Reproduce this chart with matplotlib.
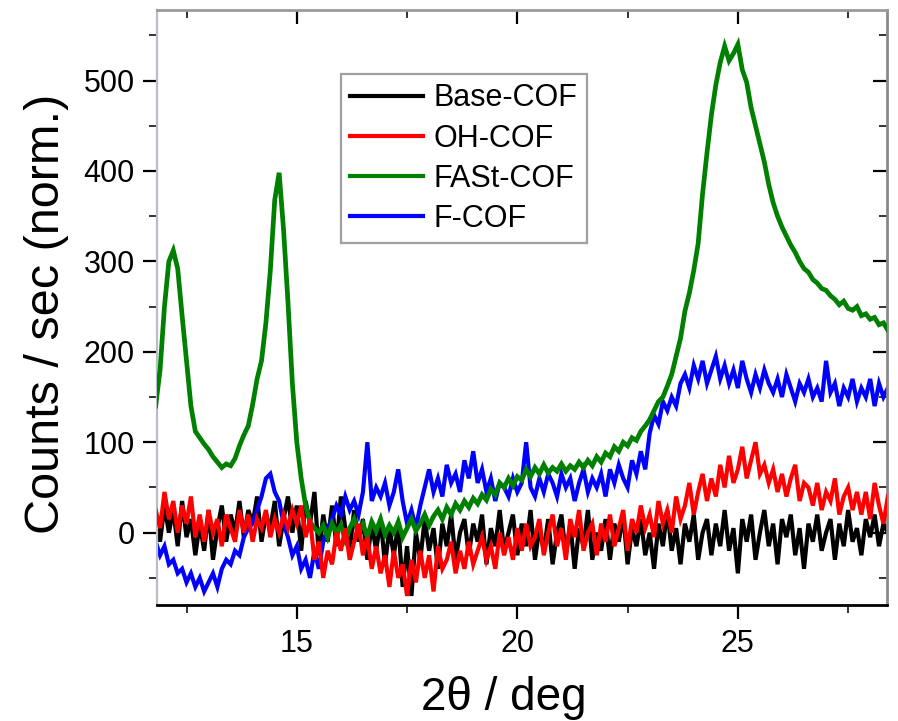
import numpy as np
import matplotlib
matplotlib.use("Agg")
import matplotlib.pyplot as plt
from matplotlib.ticker import MultipleLocator

plt.rcParams['font.family'] = ['Liberation Sans', 'DejaVu Sans']

# 2-theta sampling grid (deg): 11.8 ... 28.4, every 0.1
x_start = 11.8
x_step = 0.1

series_names = ["Base-COF", "OH-COF", "FASt-COF", "F-COF"]
series_colors = ["#000000", "#ff0000", "#008000", "#0000ff"]

base_cof = [
    20, -10, 30, 0, 25, -15, 35, -5, 15, -25,
    10, -20, 25, -30, 5, 30, -10, 20, 0, 35,
    -5, 25, 10, 40, -10, 20, 5, 35, -15, 15,
    40, 0, 30, -20, 35, 10, 45, -25, 20, -10,
    30, -15, 40, 5, -20, 25, -10, 15, -30, 10,
    -20, 15, -35, 5, -25, 10, -60, -15, -70, 0,
    -30, 15, -20, 5, -40, 10, -15, 20, -30, 0,
    15, -25, 10, -10, 20, -35, 5, -15, 25, -20,
    0, 20, -25, 10, -15, 25, -30, 5, -20, 15,
    -35, 0, 20, -25, 10, -40, 5, -15, 25, -30,
    0, -20, 15, -30, 10, -10, 20, -35, 5, -15,
    15, -25, 0, -40, 10, -15, 25, -20, 5, -35,
    10, -10, 20, -30, 0, 15, -25, 10, -15, 25,
    -20, 5, -45, 15, -10, 20, -30, 0, 25, -15,
    10, -35, 15, -5, 20, -25, 5, -40, 10, -10,
    20, -20, 0, 15, -30, 10, -15, 25, -10, 5,
    -25, 15, -5, 20, -15, 10, 0,
]

oh_cof = [
    25, 5, 45, 15, 35, 0, 30, 10, 40, -5,
    20, -10, 25, 0, 15, -15, 20, 5, -10, 25,
    0, 20, -10, 15, 5, 25, -5, 15, 0, 20,
    5, 25, 10, 30, -5, 15, -30, -10, -50, -20,
    -35, 0, -20, 5, -30, -10, 10, -25, -5, -40,
    -15, -45, -25, -60, -20, -50, -35, -70, -30, -55,
    -20, -50, -25, -65, -15, -40, -30, -10, -45, -20,
    -40, -10, -35, -20, -5, -30, -15, -40, 0, -25,
    -5, -30, 5, -20, 10, -15, -5, 15, -25, 0,
    20, -15, 5, -30, 15, -5, 25, -20, 0, 10,
    -25, 10, -10, 20, -15, 5, 25, -20, 15, 0,
    30, 5, 20, -5, 35, 10, 25, 0, 40, 15,
    30, 55, 20, 45, 65, 35, 60, 40, 75, 50,
    85, 55, 70, 95, 60, 80, 100, 65, 75, 55,
    70, 45, 65, 40, 60, 75, 35, 55, 50, 30,
    55, 25, 45, 35, 60, 20, 40, 50, 25, 45,
    20, 45, 15, 55, 30, 10, 40,
]

fast_cof = [
    140, 180, 250, 300, 312, 292, 240, 190, 140, 112,
    105, 98, 92, 84, 78, 72, 76, 74, 82, 96,
    108, 118, 142, 170, 190, 232, 290, 368, 398, 335,
    255, 165, 100, 60, 30, 12, 5, 0, 8, -5,
    10, 0, 8, -8, 5, 15, 0, 10, -5, 12,
    2, 15, -2, 8, 0, 12, -5, 5, 15, 2,
    10, 20, 8, 18, 25, 15, 28, 20, 32, 25,
    35, 28, 38, 32, 42, 36, 48, 42, 55, 50,
    60, 52, 62, 58, 70, 62, 72, 65, 75, 66,
    72, 68, 76, 68, 74, 70, 78, 72, 80, 74,
    84, 78, 88, 84, 95, 90, 100, 96, 105, 102,
    112, 118, 125, 135, 145, 150, 162, 175, 195, 215,
    245, 265, 290, 320, 375, 420, 462, 495, 520, 538,
    522, 530, 540, 512, 498, 470, 450, 430, 410, 385,
    365, 350, 338, 328, 318, 310, 300, 292, 288, 280,
    276, 270, 268, 262, 258, 252, 256, 248, 246, 250,
    240, 242, 236, 238, 230, 232, 224,
]

f_cof = [
    -10, -25, -15, -35, -30, -45, -40, -55, -45, -60,
    -50, -65, -55, -45, -60, -40, -30, -35, -20, -25,
    -5, 5, 10, 25, 40, 60, 65, 45, 35, 10,
    -5, -25, -15, -40, -30, -50, -20, -40, -10, 5,
    15, 30, 20, 40, 25, 35, 20, 45, 100, 35,
    50, 40, 55, 30, 45, 70, 35, 10, 25, 5,
    30, 50, 70, 45, 60, 40, 75, 55, 65, 45,
    80, 60, 90, 55, 70, 45, 60, 35, 55, 50,
    40, 60, 45, 55, 100, 50, 40, 60, 45, 65,
    55, 40, 65, 50, 60, 35, 55, 70, 45, 60,
    50, 65, 40, 70, 55, 75, 60, 50, 80, 65,
    90, 70, 110, 130, 120, 145, 135, 150, 140, 165,
    175, 160, 185, 170, 190, 165, 180, 195, 170, 185,
    165, 180, 160, 190, 170, 155, 175, 160, 180, 165,
    155, 170, 150, 175, 160, 145, 165, 155, 170, 150,
    160, 145, 190, 155, 165, 140, 160, 150, 170, 145,
    160, 150, 170, 140, 165, 150, 160,
]

x_ticks = [15, 20, 25]
y_ticks = [0, 100, 200, 300, 400, 500]

fig = plt.figure(figsize=(8.98, 7.21), dpi=100)
ax = fig.add_axes([0.1748, 0.1609, 0.8129, 0.8252])

all_series = [base_cof, oh_cof, fast_cof, f_cof]
zorders = [1, 4, 3, 2]
widths = [3.0, 3.0, 3.4, 3.0]
for name, vals, col, z, lw in zip(series_names, all_series, series_colors, zorders, widths):
    vals = np.asarray(vals, dtype=float)
    xs = x_start + x_step * np.arange(len(vals))
    ax.plot(xs, vals, color=col, lw=lw, label=name, zorder=z, solid_joinstyle='miter')

ax.set_xlim(11.83, 28.38)
ax.set_ylim(-80, 578)
ax.set_xticks(x_ticks)
ax.set_yticks(y_ticks)
ax.xaxis.set_minor_locator(MultipleLocator(2.5))
ax.yaxis.set_minor_locator(MultipleLocator(50))

ax.tick_params(axis='both', which='major', direction='out', length=10, width=1.6,
               labelsize=22, color='black')
ax.tick_params(axis='x', which='major', pad=7)
ax.tick_params(axis='y', which='major', pad=6)
ax.tick_params(axis='both', which='minor', direction='out', length=6, width=1.4, color='#333333')
# mirrored ticks (inward) on top/right
ax.tick_params(which='major', top=True, right=True)
ax.tick_params(which='minor', top=True, right=True)
for t in ax.xaxis.get_major_ticks() + ax.xaxis.get_minor_ticks():
    t.tick2line.set_marker(matplotlib.lines.TICKDOWN)
for t in ax.yaxis.get_major_ticks() + ax.yaxis.get_minor_ticks():
    t.tick2line.set_marker(matplotlib.lines.TICKLEFT)

ax.spines['bottom'].set_color('black')
ax.spines['bottom'].set_linewidth(2.0)
ax.spines['left'].set_color('#b8bec6')
ax.spines['left'].set_linewidth(1.6)
ax.spines['top'].set_color('#9a9a9a')
ax.spines['top'].set_linewidth(2.0)
ax.spines['right'].set_color('#8a8a8a')
ax.spines['right'].set_linewidth(2.0)

ax.set_xlabel("2θ / deg", fontsize=33)
ax.xaxis.set_label_coords(0.475, -0.12)
ax.set_ylabel("Counts / sec (norm.)", fontsize=35)
ax.yaxis.set_label_coords(-0.12, 0.49)

leg = ax.legend(loc='upper left', bbox_to_anchor=(0.252, 0.892), fontsize=22,
                frameon=True, fancybox=False, handlelength=2.4, handletextpad=0.33,
                labelspacing=0.33, borderpad=0.3, borderaxespad=0.0)
leg.get_frame().set_edgecolor('#888888')
leg.get_frame().set_linewidth(1.6)
for line in leg.get_lines():
    line.set_linewidth(3.0)

fig.savefig("out.png", dpi=100, facecolor='white')
